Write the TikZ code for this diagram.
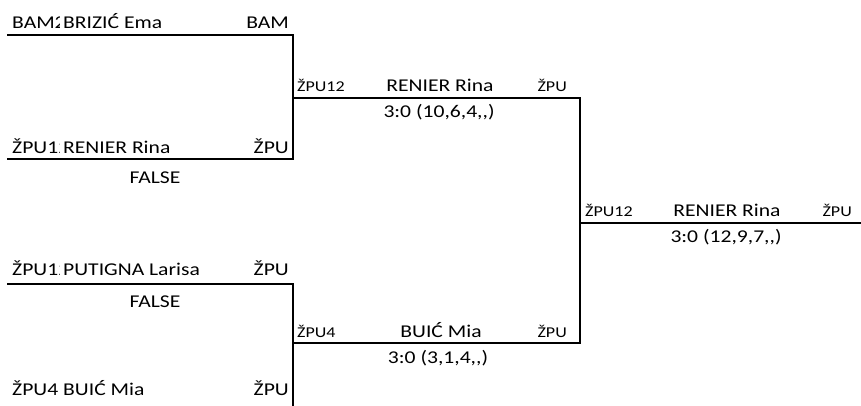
\documentclass[tikz,border=0pt]{standalone}
\usepackage{fontspec}
\setmainfont{Carlito}[FakeStretch=1.2]
\newcommand{\cc}{,\kern0pt,\kern0pt}
\newcommand{\cut}[1]{\makebox[46pt][l]{#1}}
\begin{document}
\begin{tikzpicture}[x=1pt,y=-1pt,
  bline/.style={line width=2.6pt,line cap=rect},
  nm/.style={font=\fontsize{18}{20}\selectfont,inner sep=0pt},
  sm/.style={font=\fontsize{15}{17}\selectfont,inner sep=0pt}]
\useasboundingbox (0,0) rectangle (861,405);
% first round texts
\begin{scope}
\clip (0,0) rectangle (59.5,405);
\node[nm,anchor=base west] (c1) at (12,28) {\cut{BAM2}};
\node[nm,anchor=base west] (c2) at (12,153) {\cut{ŽPU12}};
\node[nm,anchor=base west] (c3) at (12,275) {\cut{ŽPU12}};
\end{scope}
\node[nm,anchor=base west] (c4) at (12,395) {ŽPU4};
\node[nm,anchor=base west] (n1) at (63,28) {BRIZIĆ Ema};
\node[nm,anchor=base west] (n2) at (63,153) {RENIER Rina};
\node[nm,anchor=base west] (n3) at (63,275) {PUTIGNA Larisa};
\node[nm,anchor=base west] (n4) at (63,395) {BUIĆ Mia};
\node[nm,anchor=base east] (r1) at (289,28) {BAM};
\node[nm,anchor=base east] (r2) at (289,153) {ŽPU};
\node[nm,anchor=base east] (r3) at (289,275) {ŽPU};
\node[nm,anchor=base east] (r4) at (289,395) {ŽPU};
\node[nm,anchor=base] (f1) at (155,183) {FALSE};
\node[nm,anchor=base] (f2) at (155,307) {FALSE};
% second round texts
\node[sm,anchor=base west] (sc1) at (297,91) {ŽPU12};
\node[nm,anchor=base] (sn1) at (440,91) {RENIER Rina};
\node[sm,anchor=base east] (sr1) at (567,91) {ŽPU};
\node[nm,anchor=base] (ss1) at (439,117) {3:0 (10,6,4\cc)};
\node[sm,anchor=base west] (sc2) at (297,337) {ŽPU4};
\node[nm,anchor=base] (sn2) at (441,337) {BUIĆ Mia};
\node[sm,anchor=base east] (sr2) at (567,337) {ŽPU};
\node[nm,anchor=base] (ss2) at (438,363) {3:0 (3,1,4\cc)};
% final texts
\node[sm,anchor=base west] (fc) at (585,216) {ŽPU12};
\node[nm,anchor=base] (fn) at (727,216) {RENIER Rina};
\node[sm,anchor=base east] (fr) at (852,216) {ŽPU};
\node[nm,anchor=base] (fs) at (726,242) {3:0 (12,9,7\cc)};
% bracket coordinates
\coordinate (a1) at (8,35);
\coordinate (a2) at (293,35);
\coordinate (b1) at (8,159);
\coordinate (b2) at (293,159);
\coordinate (m1) at (293,98);
\coordinate (m2) at (580,98);
\coordinate (d1) at (8,284);
\coordinate (d2) at (293,284);
\coordinate (d3) at (293,405);
\coordinate (e1) at (293,343);
\coordinate (e2) at (580,343);
\coordinate (g1) at (580,223);
\coordinate (g2) at (861,223);
\draw[bline] (a1) -- (a2) -- (b2) -- (b1);
\draw[bline] (m1) -- (m2) -- (e2) -- (e1);
\draw[bline] (d1) -- (d2) -- (d3);
\draw[bline] (g1) -- (g2);
\end{tikzpicture}
\end{document}
